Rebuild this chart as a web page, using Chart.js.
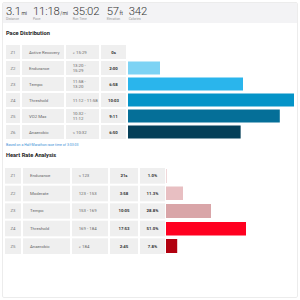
<!DOCTYPE html>
<html>
<head>
<meta charset="utf-8">
<script src="https://cdn.jsdelivr.net/npm/chart.js@4.4.0/dist/chart.umd.min.js"></script>
<style>
  html, body { margin: 0; padding: 0; background: #fff; overflow: hidden; width: 300px; height: 300px; }
  /* everything is laid out at 3x and scaled down */
  #stage { position: absolute; left: 0; top: 0; width: 900px; height: 900px; transform: scale(0.333333); transform-origin: 0 0; font-family: Roboto, "Noto Sans", sans-serif; color: #333; }
  .card { position: absolute; left: 6px; top: 6px; width: 882px; height: 882px; border: 3px solid #ececec; border-radius: 6px; background: #fff; }
  .stats { position: absolute; left: 9px; top: 9px; width: 882px; height: 60px; background: #f3f3f5; }
  .stat { position: absolute; top: 5px; white-space: nowrap; }
  .stat .v { font-size: 34px; font-weight: 300; color: #333; letter-spacing: -0.5px; }
  .stat .u { font-size: 15px; font-weight: 400; color: #444; margin-left: 2px; }
  .stat .l { display: block; font-size: 10px; color: #999; margin-top: -3px; }
  .title { position: absolute; left: 18px; font-size: 17px; font-weight: 700; color: #222; }
  .note { position: absolute; left: 18px; top: 427px; font-size: 10.5px; color: #3a8fd6; }
  .grid { position: absolute; display: grid; column-gap: 6px; row-gap: 6px; }
  .grid div { background: #efefef; font-size: 13px; color: #666; display: flex; align-items: center; line-height: 15px; white-space: pre-line; }
  .grid .z { justify-content: center; color: #777; }
  .grid .n { padding-left: 21px; }
  .grid .r { padding-left: 20px; }
  .grid .t { justify-content: center; font-weight: 700; color: #333; }
  .wrap { position: absolute; }
</style>
</head>
<body>
<div id="stage">
  <div class="card"></div>
  <div class="stats" id="stats"></div>
  <div class="title" style="top:88px">Pace Distribution</div>
  <div class="grid" id="paceTable" style="left:18px; top:135px; grid-template-columns:42px 126px 99px 75px; grid-auto-rows:42px;"></div>
  <div class="wrap" style="left:384px; top:132px; width:501px; height:288px;"><canvas id="paceChart"></canvas></div>
  <div class="note">Based on a Half-Marathon race time of 3:03:03</div>
  <div class="title" style="top:455px">Heart Rate Analysis</div>
  <div class="grid" id="hrTable" style="left:15px; top:504px; grid-template-columns:48px 141px 108px 84px 75px; grid-auto-rows:46.8px;"></div>
  <div class="wrap" style="left:498px; top:501px; width:384px; height:264px;"><canvas id="hrChart"></canvas></div>
</div>
<script>
// summary
const statValues = ['3.1', '11:18', '35:02', '57', '342'];
const statUnits = ['mi', '/mi', '', 'ft', ''];
const statLabels = ['Distance', 'Pace', 'Run Time', 'Elevation', 'Calories'];
const statLeft = [18, 99, 218, 320, 386];

// pace distribution
const paceZones = ['Z1', 'Z2', 'Z3', 'Z4', 'Z5', 'Z6'];
const paceNames = ['Active Recovery', 'Endurance', 'Tempo', 'Threshold', 'VO2 Max', 'Anaerobic'];
const paceRanges = ['> 15:29', '13:20 -\n15:29', '11:58 -\n13:20', '11:12 - 11:58', '10:32 -\n11:12', '< 10:32'];
const paceSeconds = [0, 120, 418, 603, 551, 410];
const paceColors = ['#b9e6f8', '#7dd3f4', '#2ab5ec', '#0494c8', '#056f98', '#053f58'];

// heart rate analysis
const hrZones = ['Z1', 'Z2', 'Z3', 'Z4', 'Z5'];
const hrNames = ['Endurance', 'Moderate', 'Tempo', 'Threshold', 'Anaerobic'];
const hrRanges = ['< 123', '123 - 153', '153 - 169', '169 - 184', '> 184'];
const hrSeconds = [21, 238, 605, 1073, 165];
const hrColors = ['#f0d8da', '#e8bfc2', '#d9a5a8', '#ff0020', '#b1000f'];

function fmt(s) {
  if (s < 60) return s + 's';
  const m = Math.floor(s / 60), r = s % 60;
  return m + ':' + String(r).padStart(2, '0');
}

const hrTotal = hrSeconds.reduce((a, b) => a + b, 0);
const hrPct = hrSeconds.map(s => Math.round(s / hrTotal * 1000) / 10);

document.getElementById('stats').innerHTML = statValues.map((v, i) => `
  <div class="stat" style="left:${statLeft[i] - 9}px">
    <span class="v">${v}</span><span class="u">${statUnits[i]}</span>
    <span class="l">${statLabels[i]}</span>
  </div>`).join('');

document.getElementById('paceTable').innerHTML = paceZones.map((z, i) => `
  <div class="z">${z}</div><div class="n">${paceNames[i]}</div>
  <div class="r">${paceRanges[i]}</div><div class="t">${fmt(paceSeconds[i])}</div>`).join('');

document.getElementById('hrTable').innerHTML = hrZones.map((z, i) => `
  <div class="z">${z}</div><div class="n">${hrNames[i]}</div>
  <div class="r">${hrRanges[i]}</div><div class="t">${fmt(hrSeconds[i])}</div>
  <div class="t">${hrPct[i].toFixed(1)}%</div>`).join('');

function barChart(id, labels, values, colors, max, pct) {
  return new Chart(document.getElementById(id), {
    type: 'bar',
    data: {
      labels: labels,
      datasets: [{
        data: values,
        backgroundColor: colors,
        borderColor: 'rgba(255,255,255,0.45)',
        borderWidth: 3,
        barPercentage: pct,
        categoryPercentage: 1
      }]
    },
    options: {
      indexAxis: 'y',
      responsive: true,
      maintainAspectRatio: false,
      animation: false,
      layout: { padding: 0 },
      scales: {
        x: { display: false, min: 0, max: max },
        y: { display: false }
      },
      plugins: { legend: { display: false }, tooltip: { enabled: false } }
    }
  });
}

barChart('paceChart', paceZones, paceSeconds, paceColors, 603, 0.94);
barChart('hrChart', hrZones, hrPct, hrColors, 80.5, 0.9);
</script>
</body>
</html>
